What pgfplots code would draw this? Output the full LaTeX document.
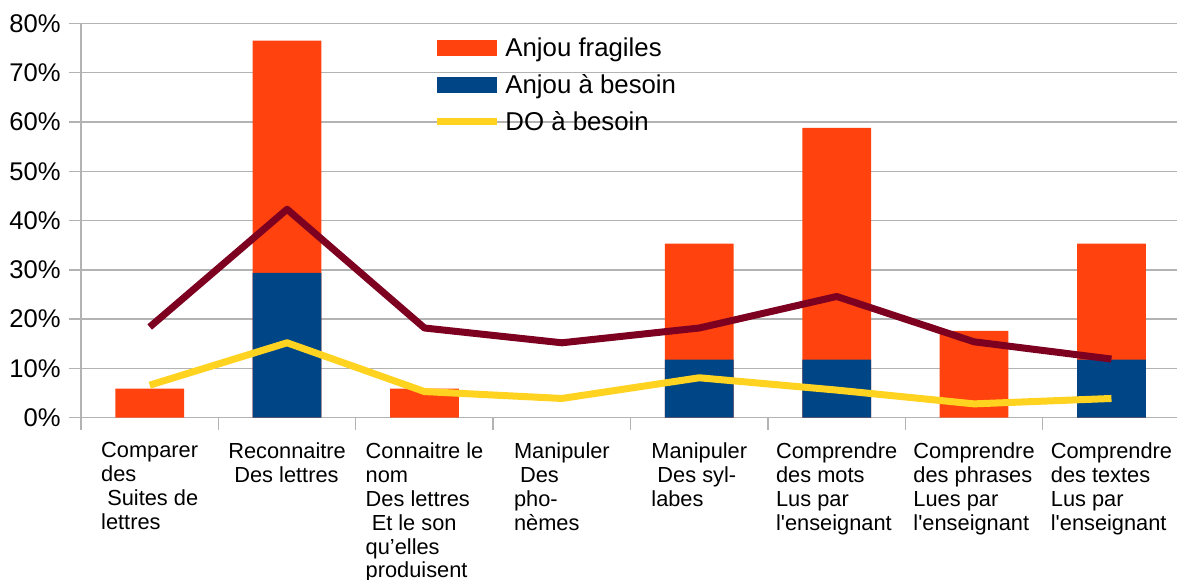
\documentclass[border=0pt]{standalone}
\usepackage{fontspec}
\setmainfont{Liberation Sans}
\usepackage{pgfplots}
\pgfplotsset{compat=1.18}

\definecolor{cOrange}{HTML}{FF420E}
\definecolor{cBlue}{HTML}{004586}
\definecolor{cYellow}{HTML}{FFD320}
\definecolor{cWine}{HTML}{7E0021}
\definecolor{cGrid}{HTML}{B3B3B3}

\begin{document}
\begin{tikzpicture}
\begin{axis}[
  scale only axis,
  width=548pt, height=197.1pt,
  xmin=-0.5, xmax=7.477, ymin=0, ymax=80,
  axis x line*=bottom, axis y line*=left,
  axis line style={cGrid, line width=0.7pt},
  ytick={0,10,...,80},
  yticklabel={\pgfmathprintnumber{\tick}\%},
  ymajorgrids, grid style={cGrid, line width=0.7pt},
  tick align=outside, major tick length=6pt,
  tick style={cGrid, line width=0.7pt},
  xtick={0,...,7},
  xtick style={draw=none},
  extra x ticks={-0.5,0.5,...,6.5},
  extra x tick labels={},
  extra x tick style={xtick style={draw=cGrid}, xmajorgrids=false},
  xticklabels={
    {Comparer\\des\\\ Suites de\\lettres},
    {Reconnaitre\\\ Des lettres},
    {Connaitre le\\nom\\Des lettres\\\ Et le son\\qu’elles\\produisent},
    {Manipuler\\\ Des\\pho-\\nèmes},
    {Manipuler\\\ Des syl-\\labes},
    {Comprendre\\des mots\\Lus par\\l\textquotesingle enseignant},
    {Comprendre\\des phrases\\Lues par\\l\textquotesingle enseignant},
    {Comprendre\\des textes\\Lus par\\l\textquotesingle enseignant}},
  xticklabel style={font=\fontsize{10.9}{11.95}\selectfont, align=left,
    anchor=north, inner sep=0pt, yshift=-6.3pt},
  yticklabel style={font=\fontsize{12.8}{15}\selectfont, anchor=east,
    inner sep=0pt, xshift=-4pt},
  /pgf/number format/assume math mode=true,
  legend style={at={(0.3212,0.9642)}, anchor=north west, draw=none, fill=none,
    inner sep=0pt, row sep=6.5pt, font=\fontsize{12.9}{15}\selectfont,
    nodes={inner sep=0pt, text height=9.2pt, text depth=2.8pt}},
  legend cell align=left,
]
  \addplot[ybar, bar width=0.5, bar shift=0pt, fill=cOrange, draw=none,
    legend image code/.code={\fill[cOrange] (0pt,-3.2pt) rectangle (30pt,4.8pt);
      \path (32.5pt,0pt);}]
    coordinates {(0,5.9) (1,76.5) (2,5.9) (4,35.3) (5,58.8) (6,17.6) (7,35.3)};
  \addlegendentry{Anjou fragiles}

  \addplot[ybar, bar width=0.5, bar shift=0pt, fill=cBlue, draw=none,
    legend image code/.code={\fill[cBlue] (0pt,-3.2pt) rectangle (30pt,4.8pt);
      \path (32.5pt,0pt);}]
    coordinates {(1,29.4) (4,11.8) (5,11.8) (7,11.8)};
  \addlegendentry{Anjou à besoin}

  \addplot[sharp plot, cYellow, line width=3.5pt, line join=round,
    legend image code/.code={\draw[cYellow, line width=3.5pt] (0pt,1.45pt) -- (30pt,1.45pt);
      \path (32.5pt,0pt);}]
    coordinates {(0,6.6) (1,15.2) (2,5.3) (3,3.9) (4,8.1) (5,5.6) (6,2.8) (7,3.9)};
  \addlegendentry{DO à besoin}

  \addplot[sharp plot, cWine, line width=3.5pt, line join=round, forget plot]
    coordinates {(0,18.4) (1,42.3) (2,18.2) (3,15.2) (4,18.2) (5,24.6) (6,15.4) (7,11.9)};
\end{axis}
\pgfresetboundingbox
\path ([xshift=-40.5pt, yshift=-81.15pt]current axis.south west)
  rectangle ([yshift=11.75pt]current axis.north east);
\end{tikzpicture}
\end{document}
